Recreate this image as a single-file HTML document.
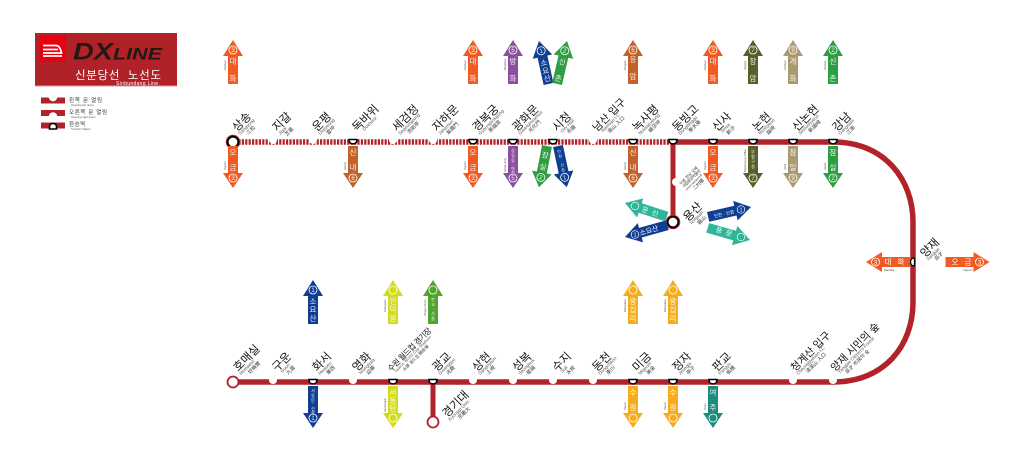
<!DOCTYPE html>
<html><head><meta charset="utf-8"><style>
html,body{margin:0;padding:0;background:#fff}
svg{display:block}
text{font-family:"Liberation Sans","Noto Sans CJK KR",sans-serif}
.t{font-size:11.5px;fill:#111}
.l{font-size:4.6px;fill:#555}
.h{font-size:5px;fill:#333}
.a text{font-size:7.5px;fill:#fff;text-anchor:middle;fill-opacity:.92}
.a .n{font-size:6px}
.a .z{font-size:4px}
.a .s{font-size:2.6px;fill:#444;text-anchor:start}
.a circle{fill:none;stroke:#fff;stroke-width:.8}
</style></head><body>
<svg width="1024" height="467" viewBox="0 0 1024 467" xmlns="http://www.w3.org/2000/svg">
<defs>
<path id="u" d="M0 0L10 16H5V44H-5V16H-10Z"/>
<path id="d" d="M-5 0H5V27H10L0 42L-10 27H-5Z"/>
<path id="m" d="M-4 0H4Q4 4.4 0 4.4Q-4 4.4 -4 0Z" fill="#fff" stroke="#000" stroke-width="1.500"/>
</defs>

<!-- logo -->
<rect x="35" y="33" width="142" height="53.500" fill="#b02227"/>
<rect x="35" y="85.500" width="142" height="1" fill="#e89a9a"/>
<rect x="40" y="36" width="26" height="26" rx="1.500" fill="#e60012"/>
<path d="M43 45.500H56Q60 45.500 61.500 53H43M43 49.500H58M43 56H62" fill="none" stroke="#fff" stroke-width="1.700"/>
<text x="73" y="59.500" font-size="24" font-weight="700" font-style="italic" fill="#231815" textLength="40" lengthAdjust="spacingAndGlyphs">DX</text>
<text x="113" y="59.500" font-size="16.500" font-weight="700" font-style="italic" fill="#231815" textLength="49" lengthAdjust="spacingAndGlyphs">LINE</text>
<text x="75" y="79" font-size="11.500" fill="#fff" textLength="86" xml:space="preserve">신분당선  노선도</text>
<text x="116" y="85" font-size="5" fill="#fff" textLength="42">Sinbundang Line</text>

<!-- legend -->
<rect x="41" y="97.500" width="24" height="6" fill="#b2222a"/><circle cx="53" cy="97" r="4.300" fill="#fff"/>
<rect x="41" y="110" width="24" height="6" fill="#b2222a"/><circle cx="53" cy="116.500" r="4.300" fill="#fff"/>
<rect x="41" y="122.500" width="24" height="6" fill="#b2222a"/>
<path d="M49.500 129V127Q49.500 123.500 53 123.500Q56.500 123.500 56.500 127V129Z" fill="#fff" stroke="#000" stroke-width="1.500"/>
<text x="69" y="102" font-size="5.500" fill="#333" textLength="33">왼쪽 문 열림</text>
<text x="71" y="106" font-size="2.800" fill="#555">Opening left doors</text>
<text x="69" y="114" font-size="5.500" fill="#333" textLength="38">오른쪽 문 열림</text>
<text x="71" y="118" font-size="2.800" fill="#555">Opening right doors</text>
<text x="69" y="126" font-size="5.500" fill="#333" textLength="16">환승역</text>
<text x="71" y="130" font-size="2.800" fill="#555">Transfer Station</text>

<!-- lines -->
<path d="M235 142H673" stroke="#b2222a" stroke-width="5.500" stroke-dasharray="2.200 1.200" fill="none"/>
<path d="M673 142H833C885 142 913 180 913 222V302C913 345 885 382 833 382H233" stroke="#b2222a" stroke-width="5.500" fill="none"/>
<path d="M673 142V222M433 382V422" stroke="#b2222a" stroke-width="5" fill="none"/>

<!-- white notches -->
<g fill="#fff">
<circle cx="273" cy="140" r="4"/><circle cx="313" cy="140" r="4"/><circle cx="393" cy="140" r="4"/><circle cx="433" cy="140" r="4"/><circle cx="593" cy="140" r="4"/>
<circle cx="273" cy="380" r="4"/><circle cx="353" cy="380" r="4"/><circle cx="473" cy="380" r="4"/><circle cx="513" cy="380" r="4"/><circle cx="553" cy="380" r="4"/><circle cx="593" cy="380" r="4"/><circle cx="793" cy="380" r="4"/><circle cx="833" cy="380" r="4"/>
<circle cx="676" cy="182" r="4"/>
</g>

<!-- transfer markers -->
<use href="#m" x="353" y="139.500"/><use href="#m" x="473" y="139.500"/><use href="#m" x="513" y="139.500"/><use href="#m" x="553" y="139.500"/><use href="#m" x="633" y="139.500"/><use href="#m" x="673" y="139.500"/><use href="#m" x="713" y="139.500"/><use href="#m" x="753" y="139.500"/><use href="#m" x="793" y="139.500"/><use href="#m" x="833" y="139.500"/>
<use href="#m" x="313" y="379.500"/><use href="#m" x="393" y="379.500"/><use href="#m" x="433" y="379.500"/><use href="#m" x="633" y="379.500"/><use href="#m" x="673" y="379.500"/><use href="#m" x="713" y="379.500"/>
<path d="M914.500 258V266Q910.500 266 910.500 262Q910.500 258 914.500 258Z" fill="#fff" stroke="#000" stroke-width="1.300"/>

<!-- termini -->
<circle cx="233" cy="142" r="5.500" fill="#fff" stroke="#000" stroke-width="2.200"/>
<circle cx="233" cy="142" r="6.800" fill="none" stroke="#b2222a" stroke-width=".8"/>
<circle cx="673" cy="222" r="5.500" fill="#fff" stroke="#000" stroke-width="2.200"/>
<circle cx="673" cy="222" r="6.800" fill="none" stroke="#c8202a" stroke-width="1"/>
<circle cx="233" cy="382" r="5.500" fill="#fff" stroke="#b2222a" stroke-width="1.800"/>
<circle cx="433" cy="422" r="5.500" fill="#fff" stroke="#b2222a" stroke-width="1.800"/>

<!-- station labels top -->
<g transform="translate(237,132) rotate(-45)"><text class="t">상송</text><text class="l" y="4.500">Sangsong</text><text class="h" x="6" y="10">三松</text></g>
<g transform="translate(277,132) rotate(-45)"><text class="t">지갈</text><text class="l" y="4.500">Jigal</text><text class="h" x="4" y="10">芝葛</text></g>
<g transform="translate(317,132) rotate(-45)"><text class="t">운평</text><text class="l" y="4.500">Unpyeong</text><text class="h" x="6" y="10">雲坪</text></g>
<g transform="translate(357,132) rotate(-45)"><text class="t">독바위</text><text class="l" y="4.500" x="6">Dokbawi</text></g>
<g transform="translate(397,132) rotate(-45)"><text class="t">세검정</text><text class="l" y="4.500">Segeomjeong</text><text class="h" x="7" y="10">洗劍亭</text></g>
<g transform="translate(437,132) rotate(-45)"><text class="t">자하문</text><text class="l" y="4.500">Jahamun</text><text class="h" x="6" y="10">紫霞門</text></g>
<g transform="translate(477,132) rotate(-45)"><text class="t">경복궁</text><text class="l" y="4.500">Gyeongbokgung</text><text class="h" x="9" y="10">景福宮</text></g>
<g transform="translate(517,132) rotate(-45)"><text class="t">광화문</text><text class="l" y="4.500">Gwanghwamun</text><text class="h" x="9" y="10">光化門</text></g>
<g transform="translate(557,132) rotate(-45)"><text class="t">시청</text><text class="l" x="3" y="4.500">City Hall</text><text class="h" x="7" y="10">市廳</text></g>
<g transform="translate(597,132) rotate(-45)"><text class="t" style="font-size:10.500px" xml:space="preserve">남산 입구</text><text class="l" y="4.500" x="4">Namsan I.C</text><text class="h" x="8" y="10">南山 入口</text></g>
<g transform="translate(637,132) rotate(-45)"><text class="t">녹사평</text><text class="l" y="4.500">Noksapyeong</text><text class="h" x="9" y="10">綠莎坪</text></g>
<g transform="translate(677,132) rotate(-45)"><text class="t">동빙고</text><text class="l" y="4.500">Dongbinggo</text><text class="h" x="9" y="10">東氷庫</text></g>
<g transform="translate(717,132) rotate(-45)"><text class="t">신사</text><text class="l" x="3" y="4.500">Sinsa</text><text class="h" x="6" y="10">新沙</text></g>
<g transform="translate(757,132) rotate(-45)"><text class="t">논현</text><text class="l" y="4.500">Nonhyeon</text><text class="h" x="6" y="10">論峴</text></g>
<g transform="translate(797,132) rotate(-45)"><text class="t">신논현</text><text class="l" y="4.500">Sinnonhyeon</text><text class="h" x="9" y="10">新論峴</text></g>
<g transform="translate(837,132) rotate(-45)"><text class="t">강남</text><text class="l" y="4.500">Gangnam</text><text class="h" x="6" y="10">江南</text></g>

<!-- station labels bottom -->
<g transform="translate(238,372) rotate(-45)"><text class="t">호매실</text><text class="l" y="4.500">Homaesil</text><text class="h" x="7" y="10">好梅實</text></g>
<g transform="translate(277,372) rotate(-45)"><text class="t">구운</text><text class="l" x="3" y="4.500">Guun</text><text class="h" x="6" y="10">九雲</text></g>
<g transform="translate(317,372) rotate(-45)"><text class="t">화서</text><text class="l" y="4.500">Hwaseo</text><text class="h" x="6" y="10">華西</text></g>
<g transform="translate(357,372) rotate(-45)"><text class="t">영화</text><text class="l" y="4.500">Yeonghwa</text><text class="h" x="6" y="10">迎華</text></g>
<g transform="translate(391,372) rotate(-45)"><text class="t" style="font-size:8px" textLength="58" xml:space="preserve">수원 월드컵 경기장</text><text class="l" style="font-size:4px" x="3" y="4" textLength="50">Suwon World Cup Stadium</text><text class="h" style="font-size:4.200px" x="10" y="9">水原 월드컵 競技場</text></g>
<g transform="translate(437,372) rotate(-45)"><text class="t">광교</text><text class="l" y="4.500">Gwanggyo</text><text class="h" x="6" y="10">光敎</text></g>
<g transform="translate(477,372) rotate(-45)"><text class="t">상현</text><text class="l" y="4.500">Sanghyeon</text><text class="h" x="6" y="10">上峴</text></g>
<g transform="translate(517,372) rotate(-45)"><text class="t">성복</text><text class="l" y="4.500">Seongbok</text><text class="h" x="6" y="10">星福</text></g>
<g transform="translate(557,372) rotate(-45)"><text class="t">수지</text><text class="l" x="3" y="4.500">Suji</text><text class="h" x="6" y="10">水枝</text></g>
<g transform="translate(597,372) rotate(-45)"><text class="t">동천</text><text class="l" y="4.500">Dongcheon</text><text class="h" x="6" y="10">東川</text></g>
<g transform="translate(637,372) rotate(-45)"><text class="t">미금</text><text class="l" y="4.500">Migeum</text><text class="h" x="6" y="10">美金</text></g>
<g transform="translate(677,372) rotate(-45)"><text class="t">정자</text><text class="l" y="4.500">Jeongja</text><text class="h" x="6" y="10">亭子</text></g>
<g transform="translate(717,372) rotate(-45)"><text class="t">판교</text><text class="l" y="4.500">Pangyo</text><text class="h" x="6" y="10">板橋</text></g>
<g transform="translate(795,372) rotate(-45)"><text class="t" style="font-size:10.500px" xml:space="preserve">청계산 입구</text><text class="l" y="4.500">Cheonggyesan I.C</text><text class="h" x="8" y="10">淸溪山 入口</text></g>
<g transform="translate(835,372) rotate(-45)"><text class="t" style="font-size:10.500px" xml:space="preserve">양재 시민의 숲</text><text class="l" x="2" y="4.500">Yangjae Citizen's Forest</text><text class="h" x="7" y="10">良才 市民의 숲</text></g>

<!-- other labels -->
<g transform="translate(447,418) rotate(-45)"><text class="t">경기대</text><text class="l" y="4.500">Kyonggi Univ.</text><text class="h" x="8" y="10">京畿大</text></g>
<g transform="translate(688,222) rotate(-45)"><text class="t">용산</text><text class="l" y="4.500">Yongsan</text><text class="h" x="6" y="10">龍山</text></g>
<g transform="translate(925,258) rotate(-45)"><text class="t">양재</text><text class="l" y="4.500">Yangjae</text><text class="h" x="6" y="10">良才</text></g>
<g transform="translate(684,188) rotate(-45)"><text font-size="4" fill="#333" textLength="24">국립중앙박물관</text><text font-size="4" fill="#333" y="-4" textLength="24">이촌 한남 국제</text><text class="l" y="4" style="font-size:3.200px" textLength="22">Ichon-Hannam Int'l</text><text class="h" style="font-size:4.500px" x="6" y="9">二村驛</text></g>

<!-- up arrows, top row -->
<g class="a" fill="#ef5b22"><g transform="translate(233,40)"><use href="#u"/><circle cy="10" r="4"/><text class="n" y="12">3</text><text y="24">대</text><text y="41">화</text><text class="s" transform="translate(-7,30) rotate(-90)">Daehwa</text></g></g>
<g class="a" fill="#ef5b22"><g transform="translate(473,40)"><use href="#u"/><circle cy="10" r="4"/><text class="n" y="12">3</text><text y="24">대</text><text y="41">화</text><text class="s" transform="translate(-7,30) rotate(-90)">Daehwa</text></g></g>
<g class="a" fill="#8a4f9e"><g transform="translate(513,40)"><use href="#u"/><circle cy="10" r="4"/><text class="n" y="12">5</text><text y="24">방</text><text y="41">화</text><text class="s" transform="translate(-7,30) rotate(-90)">Banghwa</text></g></g>
<g class="a" fill="#0f3e92"><g transform="translate(539,41) rotate(-12.500)"><use href="#u"/><circle cy="10" r="4"/><text class="n" y="12">1</text><text y="25">소</text><text y="33">요</text><text y="41">산</text></g></g>
<g class="a" fill="#2e9e42"><g transform="translate(567,41) rotate(13)"><use href="#u"/><circle cy="10" r="4"/><text class="n" y="12">2</text><text y="24">신</text><text y="41">촌</text></g></g>
<g class="a" fill="#c0622a"><g transform="translate(633,40)"><use href="#u"/><circle cy="10" r="4"/><text class="n" y="12">6</text><text y="22">응</text><text y="39">암</text><text class="s" transform="translate(-7,30) rotate(-90)">Eungam</text></g></g>
<g class="a" fill="#ef5b22"><g transform="translate(713,40)"><use href="#u"/><circle cy="10" r="4"/><text class="n" y="12">3</text><text y="24">대</text><text y="41">화</text><text class="s" transform="translate(-7,30) rotate(-90)">Daehwa</text></g></g>
<g class="a" fill="#566028"><g transform="translate(753,40)"><use href="#u"/><circle cy="10" r="4"/><text class="n" y="12">7</text><text y="24">장</text><text y="41">암</text><text class="s" transform="translate(-7,30) rotate(-90)">Jangam</text></g></g>
<g class="a" fill="#ab9a70"><g transform="translate(793,40)"><use href="#u"/><circle cy="10" r="4"/><text class="n" y="12">9</text><text y="24">개</text><text y="41">화</text><text class="s" transform="translate(-7,30) rotate(-90)">Gaehwa</text></g></g>
<g class="a" fill="#2e9e42"><g transform="translate(833,40)"><use href="#u"/><circle cy="10" r="4"/><text class="n" y="12">2</text><text y="24">신</text><text y="41">촌</text><text class="s" transform="translate(-7,30) rotate(-90)">Sinchon</text></g></g>

<!-- down arrows, top row -->
<g class="a" fill="#ef5b22"><g transform="translate(233,146)"><use href="#d"/><circle cy="32" r="4"/><text class="n" y="34">3</text><text y="9">오</text><text y="24">금</text><text class="s" transform="translate(-7,24) rotate(-90)">Ogeum</text></g></g>
<g class="a" fill="#c0622a"><g transform="translate(353,146)"><use href="#d"/><circle cy="32" r="4"/><text class="n" y="34">6</text><text y="9">신</text><text y="24">내</text><text class="s" transform="translate(-7,24) rotate(-90)">Sinnae</text></g></g>
<g class="a" fill="#ef5b22"><g transform="translate(473,146)"><use href="#d"/><circle cy="32" r="4"/><text class="n" y="34">3</text><text y="9">오</text><text y="24">금</text><text class="s" transform="translate(-7,24) rotate(-90)">Ogeum</text></g></g>
<g class="a" fill="#8a4f9e"><g transform="translate(513,146)"><use href="#d"/><circle cy="32" r="4"/><text class="n" y="34">5</text><text class="z" y="6">상</text><text class="z" y="11">일</text><text class="z" y="16">동</text><text class="z" y="21">·</text><text class="z" y="24">마</text><text class="z" y="28">천</text><text class="s" transform="translate(-7,26) rotate(-90)">Sangil-dong</text></g></g>
<g class="a" fill="#2e9e42"><g transform="translate(547,146) rotate(11)"><path d="M-5 0H5V27H10L0 42L-10 27H-5Z"/><circle cy="32" r="4"/><text class="n" y="34">2</text><text y="12">잠</text><text y="24">실</text></g></g>
<g class="a" fill="#0f3e92"><g transform="translate(558,146) rotate(-12)"><use href="#d"/><circle cy="32" r="4"/><text class="n" y="34">1</text><text class="z" y="7">인</text><text class="z" y="12">천</text><text class="z" y="17">·</text><text class="z" y="21">신</text><text class="z" y="26">창</text></g></g>
<g class="a" fill="#c0622a"><g transform="translate(633,146)"><use href="#d"/><circle cy="32" r="4"/><text class="n" y="34">6</text><text y="9">신</text><text y="24">내</text><text class="s" transform="translate(-7,24) rotate(-90)">Sinnae</text></g></g>
<g class="a" fill="#ef5b22"><g transform="translate(713,146)"><use href="#d"/><circle cy="32" r="4"/><text class="n" y="34">3</text><text y="9">오</text><text y="24">금</text><text class="s" transform="translate(-7,24) rotate(-90)">Ogeum</text></g></g>
<g class="a" fill="#566028"><g transform="translate(753,146)"><use href="#d"/><circle cy="32" r="4"/><text class="n" y="34">7</text><text class="z" y="7">부</text><text class="z" y="12">평</text><text class="z" y="17">구</text><text class="z" y="22">청</text><text class="s" transform="translate(-7,26) rotate(-90)">Bupyeong-gu Office</text></g></g>
<g class="a" fill="#ab9a70"><g transform="translate(793,146)"><use href="#d"/><circle cy="32" r="4"/><text class="n" y="34">9</text><text y="9">잠</text><text y="24">일</text><text class="s" transform="translate(-7,24) rotate(-90)">Jamil</text></g></g>
<g class="a" fill="#2e9e42"><g transform="translate(833,146)"><use href="#d"/><circle cy="32" r="4"/><text class="n" y="34">2</text><text y="9">잠</text><text y="24">실</text><text class="s" transform="translate(-7,24) rotate(-90)">Jamsil</text></g></g>

<!-- Yongsan arrows -->
<g fill="#2fb597"><g transform="translate(625,203) rotate(-72)"><use href="#u"/></g></g>
<text x="650" y="214" font-size="7" fill="#fff" text-anchor="middle" transform="rotate(18 650 212)" xml:space="preserve">운  신</text>
<circle cx="635" cy="206" r="3.800" fill="none" stroke="#fff" stroke-width=".7"/>
<g fill="#0f3e92"><g transform="translate(625,237) rotate(-105.500)"><use href="#u"/></g></g>
<text x="649" y="233" font-size="7" fill="#fff" text-anchor="middle" transform="rotate(-17 649 231)">소요산</text>
<circle cx="635" cy="234.500" r="3.800" fill="none" stroke="#fff" stroke-width=".7"/><text x="635" y="236.500" font-size="5.500" fill="#fff" text-anchor="middle">1</text>
<g fill="#0f3e92"><g transform="translate(751,207) rotate(77)"><use href="#u"/></g></g>
<text x="724" y="215.500" font-size="4.500" fill="#fff" text-anchor="middle" transform="rotate(-13 724 214)">인천 · 신창</text>
<circle cx="741" cy="209.500" r="3.800" fill="none" stroke="#fff" stroke-width=".7"/><text x="741" y="211.500" font-size="5.500" fill="#fff" text-anchor="middle">1</text>
<g fill="#2fb597"><g transform="translate(750,240) rotate(106)"><use href="#u"/></g></g>
<text x="724" y="234" font-size="7" fill="#fff" text-anchor="middle" transform="rotate(16 724 232)" xml:space="preserve">용  문</text>
<circle cx="741" cy="237" r="3.800" fill="none" stroke="#fff" stroke-width=".7"/>

<!-- Yangjae arrows -->
<g fill="#ef5b22"><g transform="translate(866,262) rotate(-90)"><use href="#u"/></g><g transform="translate(989.500,262) rotate(90)"><use href="#u"/></g></g>
<circle cx="875.500" cy="262" r="4" fill="none" stroke="#fff" stroke-width=".8"/><text x="875.500" y="264.300" font-size="6" fill="#fff" text-anchor="middle">3</text>
<text x="888" y="264.500" font-size="7.500" fill="#fff" text-anchor="middle">대</text><text x="901" y="264.500" font-size="7.500" fill="#fff" text-anchor="middle">화</text>
<text x="955" y="264.500" font-size="7.500" fill="#fff" text-anchor="middle">오</text><text x="968" y="264.500" font-size="7.500" fill="#fff" text-anchor="middle">금</text>
<circle cx="979.500" cy="262" r="4" fill="none" stroke="#fff" stroke-width=".8"/><text x="979.500" y="264.300" font-size="6" fill="#fff" text-anchor="middle">3</text>
<text x="889" y="271" font-size="2.800" fill="#444" text-anchor="middle">Daehwa</text><text x="968" y="271" font-size="2.800" fill="#444" text-anchor="middle">Ogeum</text>

<!-- up arrows, bottom row -->
<g class="a" fill="#0f3e92"><g transform="translate(313,280)"><use href="#u"/><circle cy="10" r="4"/><text class="n" y="12">1</text><text y="24">소</text><text y="32">요</text><text y="41">산</text></g></g>
<g class="a" fill="#d2dc1e"><g transform="translate(393,280)"><use href="#u"/><circle cy="10" r="4"/><text y="24">인</text><text y="32">덕</text><text y="41">원</text><text class="s" transform="translate(-7,32) rotate(-90)">Indeogwon</text></g></g>
<g class="a" fill="#4fa52e"><g transform="translate(433,280)"><use href="#u"/><circle cy="10" r="4"/><text class="z" y="21">판</text><text class="z" y="26">교</text><text class="z" y="31">·</text><text class="z" y="35">서</text><text class="z" y="40">울</text><text class="s" transform="translate(-7,36) rotate(-90)">Pangyo-Seoul</text></g></g>
<g class="a" fill="#f5ad1d"><g transform="translate(633,280)"><use href="#u"/><circle cy="10" r="4"/><text y="24">왕</text><text y="32">십</text><text y="41">리</text><text class="s" transform="translate(-7,32) rotate(-90)">Wangsimni</text></g></g>
<g class="a" fill="#f5ad1d"><g transform="translate(673,280)"><use href="#u"/><circle cy="10" r="4"/><text y="24">왕</text><text y="32">십</text><text y="41">리</text><text class="s" transform="translate(-7,32) rotate(-90)">Wangsimni</text></g></g>

<!-- down arrows, bottom row -->
<g class="a" fill="#0f3e92"><g transform="translate(313,386)"><use href="#d"/><circle cy="32" r="4"/><text class="n" y="34">1</text><text class="z" y="6">서</text><text class="z" y="11">동</text><text class="z" y="16">탄</text><text class="z" y="20">·</text><text class="z" y="24">신</text><text class="z" y="28">창</text></g></g>
<g class="a" fill="#d2dc1e"><g transform="translate(393,386)"><use href="#d"/><circle cy="32" r="4"/><text y="9">서</text><text y="17">동</text><text y="25">탄</text><text class="s" transform="translate(-7,26) rotate(-90)">Seodongtan</text></g></g>
<g class="a" fill="#f5ad1d"><g transform="translate(633,386)"><use href="#d"/><circle cy="32" r="4"/><text y="9">수</text><text y="24">원</text><text class="s" transform="translate(-7,24) rotate(-90)">Suwon</text></g></g>
<g class="a" fill="#f5ad1d"><g transform="translate(673,386)"><use href="#d"/><circle cy="32" r="4"/><text y="9">수</text><text y="24">원</text><text class="s" transform="translate(-7,24) rotate(-90)">Suwon</text></g></g>
<g class="a" fill="#1d8c7c"><g transform="translate(713,386)"><use href="#d"/><circle cy="32" r="4"/><text y="9">여</text><text y="24">주</text><text class="s" transform="translate(-7,24) rotate(-90)">Yeoju</text></g></g>
</svg>
</body></html>
